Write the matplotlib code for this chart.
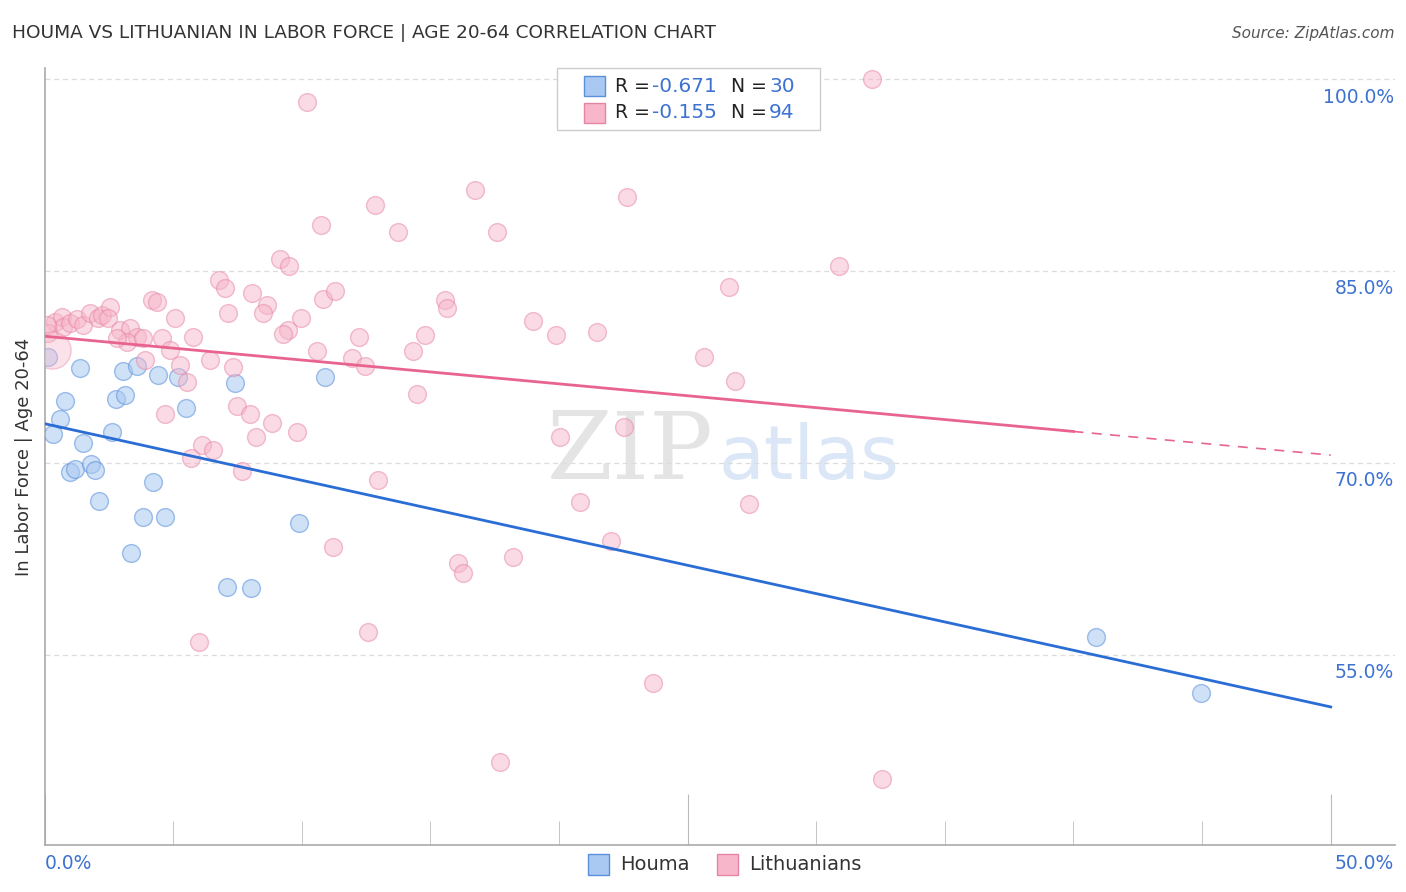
import matplotlib.pyplot as plt
from matplotlib.patches import Rectangle
from matplotlib.transforms import blended_transform_factory

# Houma (blue) points: x = share (%), y = in labor force (%)
houma_x = [0.14, 1.38, 0.80, 0.60, 0.33, 1.50, 0.99, 1.17, 1.81, 1.96,
           2.12, 2.62, 2.78, 3.13, 3.05, 3.60, 4.41, 5.19, 5.50, 4.22,
           3.83, 4.69, 3.36, 7.10, 8.03, 7.41, 9.90, 10.91, 40.88, 44.97]
houma_y = [78.31, 77.45, 74.86, 73.45, 72.28, 71.57, 69.30, 69.54, 69.93, 69.46,
           67.03, 72.44, 75.02, 75.33, 77.21, 77.60, 76.90, 76.74, 74.31, 68.52,
           65.78, 65.78, 62.96, 60.30, 60.22, 76.27, 65.31, 76.74, 56.38, 52.00]

# Lithuanians (pink) points
lith_x = [0.41, 0.68, 0.72, 0.99, 1.26, 1.50, 1.77, 2.08, 2.24, 2.55,
          2.47, 2.94, 3.32, 3.60, 3.21, 2.82, 3.83, 4.18, 4.37, 5.07,
          5.77, 4.57, 4.88, 3.91, 5.27, 5.54, 6.43, 7.13, 6.78, 7.33,
          7.02, 9.16, 9.51, 8.07, 8.65, 8.50, 9.97, 10.83, 11.29, 9.47,
          9.27, 10.59, 12.23, 11.96, 12.46, 7.48, 7.99, 8.85, 9.82, 8.22,
          4.69, 6.12, 6.55, 5.70, 7.68, 12.97, 10.21, 16.74, 12.85, 10.75,
          13.74, 17.59, 22.65, 15.57, 15.65, 14.79, 14.33, 18.99, 19.89, 21.48,
          14.48, 20.04, 22.53, 20.82, 27.39, 22.03, 18.22, 16.08, 16.27, 23.66,
          17.71, 32.56, 24.59, 32.17, 30.89, 26.61, 25.64, 26.85, 11.22, 12.58,
          6.01, 0.14, 0.10]
lith_y = [81.05, 81.44, 80.66, 80.97, 81.21, 80.81, 81.75, 81.36, 81.60, 82.15,
          81.36, 80.42, 80.58, 79.87, 79.48, 79.80, 79.80, 82.77, 82.54, 81.36,
          79.87, 79.80, 78.86, 78.07, 77.68, 76.35, 78.07, 81.75, 84.26, 77.53,
          83.71, 85.98, 85.36, 83.32, 82.38, 81.75, 81.36, 82.85, 83.40, 80.42,
          80.11, 78.78, 79.87, 78.23, 77.60, 74.47, 73.84, 73.14, 72.43, 72.04,
          73.84, 71.42, 71.03, 70.40, 69.38, 68.68, 98.20, 91.31, 90.13, 88.57,
          88.02, 88.02, 90.76, 82.77, 82.07, 80.03, 78.78, 81.13, 80.03, 80.27,
          75.41, 72.04, 72.83, 66.95, 66.80, 63.90, 62.65, 62.18, 61.39, 52.78,
          46.59, 45.26, 100.23, 100.0, 85.36, 83.79, 78.31, 76.43, 63.43, 56.77,
          55.99, 80.19, 80.80]
lith_big_x = [0.29]
lith_big_y = [78.86]

# trend lines (endpoints)
houma_line_x = [0, 50]
houma_line_y = [73.06, 50.9]
lith_solid_x = [0, 40]
lith_solid_y = [79.9, 72.45]
lith_dash_x = [40, 50]
lith_dash_y = [72.45, 70.6]

yticks = [55, 70, 85, 100]
ytick_labels = ["55.0%", "70.0%", "85.0%", "100.0%"]

blue_fill = "#a9c9f2"
blue_edge = "#5a8fdc"
blue_line = "#2a6dd4"
pink_fill = "#f7b6ca"
pink_edge = "#e684a4"
pink_line = "#e8648f"
tick_blue = "#3d72d1"


def main():
    fig = plt.figure(figsize=(14.06, 8.92), dpi=100)
    ax = fig.add_axes([0.0317, 0.0527, 0.9605, 0.8713])
    ax.set_xlim(0, 52.5)
    ax.set_ylim(40.1, 100.9)

    ax.scatter(houma_x, houma_y, s=165, facecolor=blue_fill, edgecolor=blue_edge,
               linewidth=1.0, alpha=0.55, zorder=3)
    ax.scatter(lith_x, lith_y, s=165, facecolor=pink_fill, edgecolor=pink_edge,
               linewidth=1.0, alpha=0.5, zorder=3)
    ax.scatter(lith_big_x, lith_big_y, s=720, facecolor=pink_fill, edgecolor=pink_edge,
               linewidth=1.0, alpha=0.4, zorder=3)

    ax.plot(houma_line_x, houma_line_y, color=blue_line, lw=2, zorder=4)
    ax.plot(lith_solid_x, lith_solid_y, color=pink_line, lw=2, zorder=4)
    ax.plot(lith_dash_x, lith_dash_y, color=pink_line, lw=1.2, ls=(0, (6, 5)), zorder=4)

    # grid and axes
    ax.set_yticks(yticks)
    ax.yaxis.grid(True, color="#dcdcdc", ls=(0, (4, 3)), lw=0.9)
    ax.tick_params(axis="y", length=0, labelleft=False)
    ax.set_xticks([0, 25, 50])
    ax.set_xticks([5, 10, 15, 20, 30, 35, 40, 45], minor=True)
    ax.tick_params(axis="x", which="major", direction="in", length=37, color="#bbbbbb",
                   labelbottom=False)
    ax.tick_params(axis="x", which="minor", direction="in", length=17, color="#bbbbbb")
    for side in ["top", "right"]:
        ax.spines[side].set_visible(False)
    for side in ["left", "bottom"]:
        ax.spines[side].set_color("#aaaaaa")
        ax.spines[side].set_linewidth(1.2)

    trans = blended_transform_factory(ax.transAxes, ax.transData)
    for v, lab in zip(yticks, ytick_labels):
        ax.text(0.999, v - 0.65, lab, transform=trans, ha="right", va="top",
                color=tick_blue, fontsize=13.5)

    fig.text(0.0317, 0.032, "0.0%", ha="left", va="center", color=tick_blue, fontsize=13.5)
    fig.text(0.991, 0.032, "50.0%", ha="right", va="center", color=tick_blue, fontsize=13.5)

    ax.set_ylabel("In Labor Force | Age 20-64", fontsize=13, color="#333333", labelpad=8)

    fig.text(0.0085, 0.963, "HOUMA VS LITHUANIAN IN LABOR FORCE | AGE 20-64 CORRELATION CHART",
             ha="left", va="center", fontsize=13.3, color="#333333")
    fig.text(0.992, 0.963, "Source: ZipAtlas.com", ha="right", va="center",
             fontsize=11, color="#555555", style="italic")

    # watermark
    ax.text(0.495, 0.505, "ZIP", transform=ax.transAxes, ha="right", va="center",
            fontsize=68, family="DejaVu Serif", color="#e4e4e4", zorder=1)
    ax.text(0.499, 0.497, "atlas", transform=ax.transAxes, ha="left", va="center",
            fontsize=54, color="#dbe7f7", zorder=1)

    # top legend box
    fig.patches.append(Rectangle((557 / 1406, 1 - 130 / 892), 263 / 1406, 62 / 892,
                                 transform=fig.transFigure, facecolor="white",
                                 edgecolor="#cccccc", lw=1.0, zorder=5))
    rows = [(86, blue_fill, blue_edge, "-0.671", "30"),
            (113, pink_fill, pink_edge, "-0.155", "94")]
    for ypx, fc, ec, r, n in rows:
        yf = 1 - ypx / 892
        fig.patches.append(Rectangle((584 / 1406, yf - 10 / 892), 21 / 1406, 20 / 892,
                                     transform=fig.transFigure, facecolor=fc,
                                     edgecolor=ec, lw=1.0, zorder=6))
        fig.text(615 / 1406, yf, "R =", ha="left", va="center", fontsize=13.5,
                 color="#222222", zorder=7)
        fig.text(652 / 1406, yf, r, ha="left", va="center", fontsize=14.5,
                 color=tick_blue, zorder=7)
        fig.text(731 / 1406, yf, "N =", ha="left", va="center", fontsize=13.5,
                 color="#222222", zorder=7)
        fig.text(769 / 1406, yf, n, ha="left", va="center", fontsize=14.5,
                 color=tick_blue, zorder=7)

    # bottom legend
    for xpx, fc, ec, lab in [(588, blue_fill, blue_edge, "Houma"),
                             (717, pink_fill, pink_edge, "Lithuanians")]:
        fig.patches.append(Rectangle((xpx / 1406, 1 - 875 / 892), 21 / 1406, 21 / 892,
                                     transform=fig.transFigure, facecolor=fc,
                                     edgecolor=ec, lw=1.0))
        fig.text((xpx + 32) / 1406, 1 - 864 / 892, lab, ha="left", va="center",
                 fontsize=14, color="#333333")

    fig.savefig("out.png", dpi=100)


if __name__ == "__main__":
    main()
